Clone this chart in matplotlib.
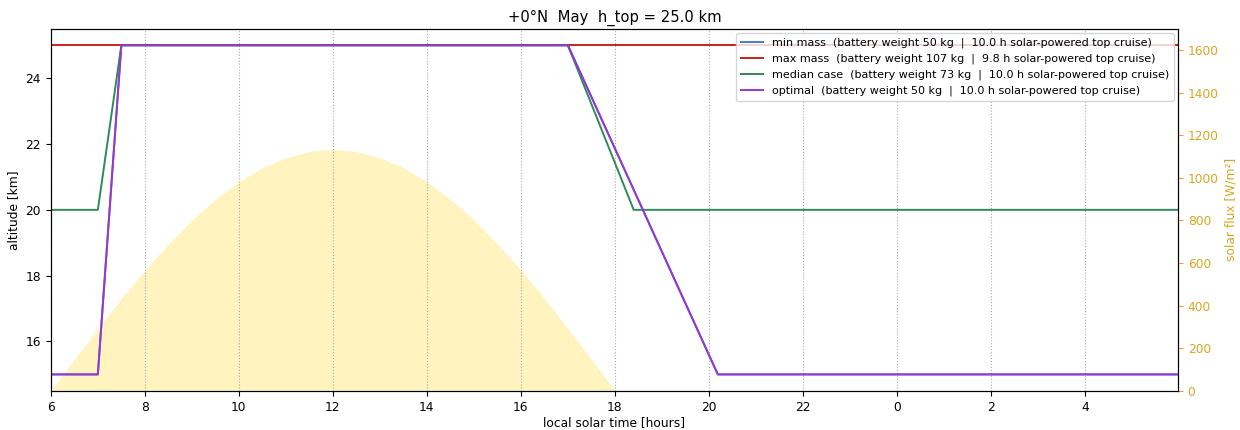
#! /usr/bin/env python3
# coding: utf-8

import matplotlib
matplotlib.use('Agg')
import matplotlib.pyplot as plt

# local solar time [hours], 24 means midnight, 30 means 6 next morning
T_OPT = [6.0, 7.0, 7.5, 17.0, 20.19, 30.0]
H_OPT = [15.0, 15.0, 25.0, 25.0, 15.0, 15.0]

T_MIN = [6.0, 7.0, 7.5, 17.0, 20.19, 30.0]
H_MIN = [15.0, 15.0, 25.0, 25.0, 15.0, 15.0]

T_MAX = [6.0, 30.0]
H_MAX = [25.0, 25.0]

T_MED = [6.0, 7.0, 7.5, 17.0, 18.4, 30.0]
H_MED = [20.0, 20.0, 25.0, 25.0, 20.0, 20.0]

T_SUN = [6.0, 6.5, 7.0, 7.5, 8.0, 8.5, 9.0, 9.5, 10.0, 10.5, 11.0, 11.5, 12.0,
         12.5, 13.0, 13.5, 14.0, 14.5, 15.0, 15.5, 16.0, 16.5, 17.0, 17.5, 18.0]
FLUX = [0, 148, 293, 434, 567, 690, 802, 900, 982, 1048, 1095, 1124, 1134,
        1124, 1095, 1048, 982, 900, 802, 690, 567, 434, 293, 148, 0]

XTICKS = [6, 8, 10, 12, 14, 16, 18, 20, 22, 24, 26, 28]
XLABELS = ['6', '8', '10', '12', '14', '16', '18', '20', '22', '0', '2', '4']

LABELS = [
    'min mass  (battery weight 50 kg  |  10.0 h solar-powered top cruise)',
    'max mass  (battery weight 107 kg  |  9.8 h solar-powered top cruise)',
    'median case  (battery weight 73 kg  |  10.0 h solar-powered top cruise)',
    'optimal  (battery weight 50 kg  |  10.0 h solar-powered top cruise)',
]

SUN_COLOR = '#DAA520'


def plot():
    plt.rcParams['font.size'] = 8.8
    fig = plt.figure(figsize=(12.4, 4.3), dpi=100)
    ax = fig.add_axes([0.041, 0.091, 0.909, 0.842])
    ax2 = ax.twinx()

    ax2.fill_between(T_SUN, FLUX, 0, color='gold', alpha=0.25, lw=0)
    ax2.set_ylim(0, 1700)
    ax2.set_ylabel('solar flux [W/m²]', color=SUN_COLOR)
    ax2.tick_params(axis='y', colors=SUN_COLOR)
    ax2.spines['right'].set_color('black')

    ax.set_zorder(ax2.get_zorder() + 1)
    ax.patch.set_visible(False)

    ax.plot(T_MIN, H_MIN, color='#3f7fcf', lw=1.4, label=LABELS[0])
    ax.plot(T_MAX, H_MAX, color='#c62222', lw=1.4, label=LABELS[1])
    ax.plot(T_MED, H_MED, color='#2e8b57', lw=1.4, label=LABELS[2])
    ax.plot(T_OPT, H_OPT, color='#9b35d0', lw=1.4, label=LABELS[3])

    ax.set_xlim(6, 29.98)
    ax.set_ylim(14.5, 25.5)
    ax.set_xticks(XTICKS)
    ax.set_xticklabels(XLABELS)
    ax.grid(axis='x', linestyle=':', color='#aaaaaa', lw=0.8)
    ax.set_xlabel('local solar time [hours]', labelpad=2)
    ax.set_ylabel('altitude [km]')
    ax.set_title('+0°N  May  h_top = 25.0 km', fontsize=10.6, pad=5)
    ax.legend(loc='upper right', fontsize=8, borderaxespad=0.4)

    fig.savefig('out.png', dpi=100)


if __name__ == '__main__':
    plot()
